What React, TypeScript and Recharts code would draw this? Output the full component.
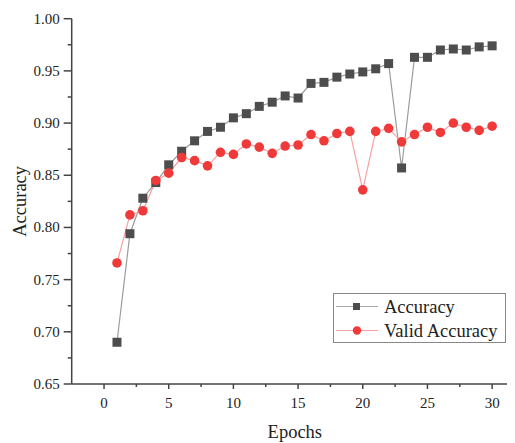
import { LineChart, Line, XAxis, YAxis } from "recharts";

const epochs = [1, 2, 3, 4, 5, 6, 7, 8, 9, 10, 11, 12, 13, 14, 15, 16, 17, 18, 19, 20, 21, 22, 23, 24, 25, 26, 27, 28, 29, 30];
const accuracy = [0.690, 0.794, 0.828, 0.843, 0.860, 0.873, 0.883, 0.892, 0.896, 0.905, 0.909, 0.916, 0.920, 0.926, 0.924, 0.938, 0.939, 0.944, 0.947, 0.949, 0.952, 0.957, 0.857, 0.963, 0.963, 0.970, 0.971, 0.970, 0.973, 0.974];
const validAccuracy = [0.766, 0.812, 0.816, 0.845, 0.852, 0.867, 0.864, 0.859, 0.872, 0.870, 0.880, 0.877, 0.871, 0.878, 0.879, 0.889, 0.883, 0.890, 0.892, 0.836, 0.892, 0.895, 0.882, 0.889, 0.896, 0.891, 0.900, 0.896, 0.893, 0.897];
const xTicks = [0, 2.5, 5, 7.5, 10, 12.5, 15, 17.5, 20, 22.5, 25, 27.5, 30];
const yTicks = [0.65, 0.675, 0.7, 0.725, 0.75, 0.775, 0.8, 0.825, 0.85, 0.875, 0.9, 0.925, 0.95, 0.975, 1.0];

const data = epochs.map((e, i) => ({ epoch: e, acc: accuracy[i], val: validAccuracy[i] }));

const FONT = "Liberation Serif, Times New Roman, serif";
const AXIS = "#444";
const ACC_COLOR = "#4d4d4d";
const VAL_COLOR = "#f03a3a";

function XTick(props: any) {
  const { x, y, payload } = props;
  const major = payload.value % 5 === 0;
  return (
    <g>
      <line x1={x} x2={x} y1={y} y2={y + (major ? 5 : 3)} stroke={AXIS} strokeWidth={1.5} />
      {major && (
        <text x={x} y={y + 24} textAnchor="middle" fontSize={15} fill="#222" style={{ fontFamily: FONT }}>
          {payload.value}
        </text>
      )}
    </g>
  );
}

function YTick(props: any) {
  const { x, y, payload } = props;
  const major = Math.round(payload.value * 1000) % 50 === 0;
  return (
    <g>
      <line x1={x} x2={x - (major ? 8 : 4)} y1={y} y2={y} stroke={AXIS} strokeWidth={1.5} />
      {major && (
        <text x={x - 12} y={y + 5} textAnchor="end" fontSize={15} fill="#222" style={{ fontFamily: FONT }}>
          {payload.value.toFixed(2)}
        </text>
      )}
    </g>
  );
}

function SquareDot(props: any) {
  const { cx, cy } = props;
  if (cx == null || cy == null) return null;
  return <rect x={cx - 4.5} y={cy - 4.5} width={9} height={9} fill={ACC_COLOR} />;
}

function CircleDot(props: any) {
  const { cx, cy } = props;
  if (cx == null || cy == null) return null;
  return <circle cx={cx} cy={cy} r={4.8} fill={VAL_COLOR} />;
}

function LegendBox() {
  return (
    <svg width={173} height={50} style={{ display: "block" }}>
      <rect x={0.5} y={0.5} width={172} height={49} fill="#fff" stroke="#888" />
      <line x1={3} x2={45} y1={13.5} y2={13.5} stroke="#aaa" strokeWidth={1.2} />
      <rect x={20} y={10} width={7} height={7} fill={ACC_COLOR} />
      <text x={51} y={19.5} fontSize={18.5} fill="#222" style={{ fontFamily: FONT }}>Accuracy</text>
      <line x1={3} x2={45} y1={37.5} y2={37.5} stroke="#f7a0a0" strokeWidth={1.2} />
      <circle cx={24} cy={37.5} r={4.2} fill={VAL_COLOR} />
      <text x={51} y={43.5} fontSize={18.5} fill="#222" style={{ fontFamily: FONT }}>Valid Accuracy</text>
    </svg>
  );
}

export default function App() {
  return (
    <div style={{ position: "relative", width: 507, height: 435, overflow: "hidden" }}>
      <LineChart
        width={520}
        height={435}
        data={data}
        margin={{ top: 10.7, right: 10, bottom: 19, left: 0 }}
      >
        <XAxis
          dataKey="epoch"
          type="number"
          domain={[-2.5, 32]}
          ticks={xTicks}
          allowDataOverflow
          height={40}
          axisLine={{ stroke: AXIS, strokeWidth: 1.5 }}
          tickLine={false}
          tickSize={0}
          tickMargin={0}
          tick={<XTick />}
          interval={0}
          label={{ value: "Epochs", position: "insideBottom", offset: -14, fontSize: 18.5, fill: "#222", style: { fontFamily: FONT } }}
        />
        <YAxis
          type="number"
          domain={[0.65, 1.0]}
          ticks={yTicks}
          allowDataOverflow
          width={63.7}
          axisLine={{ stroke: AXIS, strokeWidth: 1.5 }}
          tickLine={false}
          tickSize={0}
          tickMargin={0}
          tick={<YTick />}
          interval={0}
          label={{ value: "Accuracy", angle: -90, position: "insideLeft", offset: 11, fontSize: 18.5, fill: "#222", style: { textAnchor: "middle", fontFamily: FONT } }}
        />
        <Line
          dataKey="acc"
          name="Accuracy"
          stroke="#9c9c9c"
          strokeWidth={1.2}
          dot={<SquareDot />}
          activeDot={false}
          isAnimationActive={false}
        />
        <Line
          dataKey="val"
          name="Valid Accuracy"
          stroke="#f7a0a0"
          strokeWidth={1.2}
          dot={<CircleDot />}
          activeDot={false}
          isAnimationActive={false}
        />
      </LineChart>
      <div style={{ position: "absolute", left: 325, top: 285 }}>
        <LegendBox />
      </div>
    </div>
  );
}
